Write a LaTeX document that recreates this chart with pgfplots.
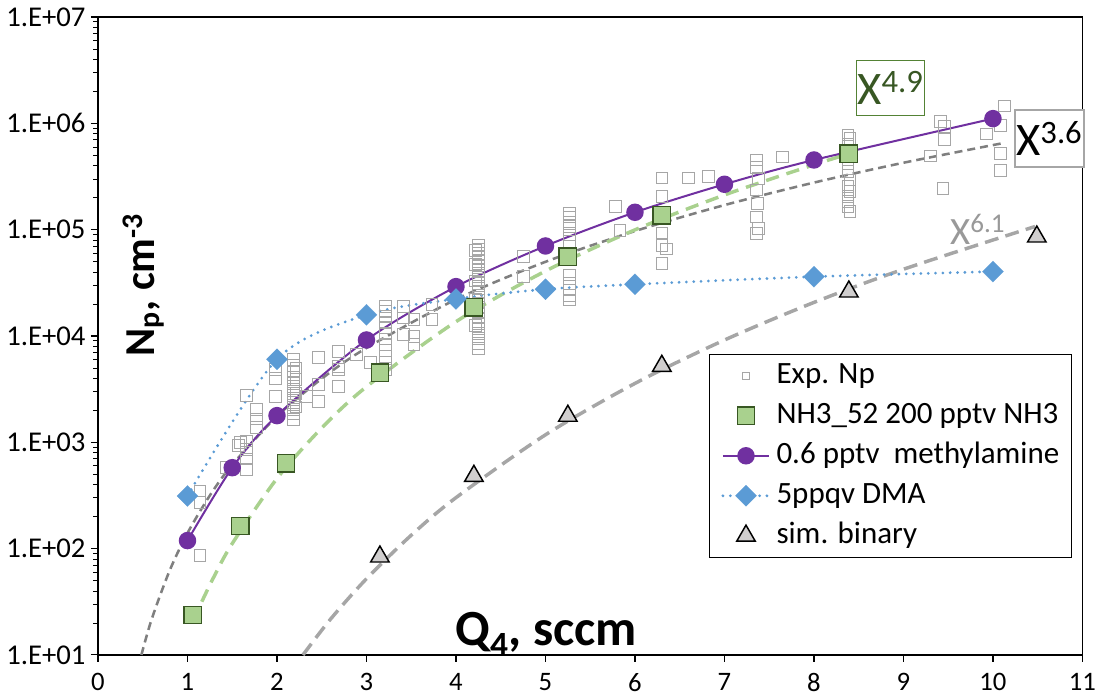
\documentclass[border=0pt]{standalone}
\usepackage{fontspec}
\setmainfont{Carlito}
\usepackage{pgfplots}
\pgfplotsset{compat=1.18}
\definecolor{mpurple}{HTML}{7030A0}
\definecolor{dblue}{HTML}{5B9BD5}
\definecolor{ngreen}{HTML}{A9D18E}
\definecolor{dgreen}{HTML}{385723}
\definecolor{bgreen}{HTML}{548235}
\definecolor{expgray}{HTML}{A6A6A6}
\definecolor{fitdark}{HTML}{7F7F7F}
\definecolor{fitlight}{HTML}{A6A6A6}
\definecolor{labgray}{HTML}{999999}
\definecolor{tgray}{HTML}{D0CECE}
\pgfplotstableread{
x y
1.14 350
1.14 270
1.14 87
1.43 580
1.57 940
1.59 990
1.66 1030
1.66 860
1.66 700
1.66 560
1.66 2760
1.77 2040
1.77 1660
1.77 1380
1.98 4840
1.98 3960
1.98 2720
2.18 6030
2.18 5300
2.18 4600
2.18 4100
2.18 3700
2.18 3350
2.18 3050
2.18 2750
2.18 2500
2.18 2250
2.18 2050
2.18 1850
2.18 1650
2.21 5000
2.21 3900
2.21 2900
2.21 2150
2.33 2720
2.46 6240
2.46 3510
2.46 2440
2.69 7200
2.69 5200
2.69 4840
2.69 3380
2.89 6700
3.04 5600
3.21 19000
3.21 17000
3.21 15200
3.21 13500
3.21 12000
3.21 10600
3.21 9400
3.21 8300
3.21 7300
3.21 6400
3.21 5600
3.21 4800
3.41 19000
3.41 14800
3.53 14300
3.41 10300
3.53 9950
3.53 8300
3.73 19800
3.73 14300
4.25 72000
4.25 66000
4.25 60000
4.25 55000
4.25 50000
4.25 45500
4.25 41500
4.25 37500
4.25 34000
4.25 31000
4.25 28000
4.25 25500
4.25 23000
4.25 20500
4.25 18500
4.25 16500
4.25 14800
4.25 13200
4.25 11800
4.25 10500
4.25 9500
4.25 8500
4.25 7700
4.22 64000
4.22 47000
4.22 33000
4.22 22000
4.22 12500
4.75 56000
4.75 36500
5.27 142600
5.27 132000
5.27 118000
5.27 107000
5.27 89000
5.27 77000
5.27 37500
5.27 31300
5.27 27100
5.27 24000
5.27 21800
5.78 165000
5.83 98000
6.30 306000
6.30 206000
6.30 93000
6.30 71500
6.35 66000
6.30 47900
6.60 306000
6.82 316000
7.36 452000
7.36 385000
7.38 303000
7.36 236000
7.37 177000
7.36 132000
7.38 103000
7.36 92500
7.65 482000
8.38 777000
8.40 722000
8.38 640000
8.38 420000
8.38 351000
8.40 293000
8.38 255000
8.40 228000
8.38 205000
8.38 183000
8.38 165000
8.40 148000
9.30 495000
9.41 1040000
9.46 934000
9.46 708000
9.44 245000
9.93 794000
10.08 950000
10.13 1460000
10.08 525000
10.08 361000
}\exptable
\begin{document}
\begin{tikzpicture}
\begin{axis}[
 at={(0,0)}, anchor=south west,
 scale only axis, width=738.4pt, height=478.5pt,
 xmin=0, xmax=11, ymin=10, ymax=1e7, ymode=log,
 xtick={0,1,2,3,4,5,6,7,8,9,10,11},
 xticklabels={0,1,2,3,4,5,6,7,8,9,10,11},
 ytick={1e1,1e2,1e3,1e4,1e5,1e6,1e7},
 yticklabels={1.E+01,1.E+02,1.E+03,1.E+04,1.E+05,1.E+06,1.E+07},
 minor ytick={20,30,40,50,60,70,80,90,200,300,400,500,600,700,800,900,2000,3000,4000,5000,6000,7000,8000,9000,20000,30000,40000,50000,60000,70000,80000,90000,200000,300000,400000,500000,600000,700000,800000,900000,2000000,3000000,4000000,5000000,6000000,7000000,8000000,9000000},
 xtick pos=bottom, ytick pos=left, tick align=outside,
 major tick length=5.25pt, minor tick length=3.5pt,
 tick style={black, line width=0.8pt}, minor tick style={line width=0.6pt},
 axis line style={black, line width=0.9pt},
 yticklabel style={font=\fontsize{21.5}{21.5}\selectfont, anchor=east, inner sep=0pt, xshift=-4pt},
 xticklabel style={font=\fontsize{20}{20}\selectfont, anchor=north, inner sep=0pt, yshift=-8.5pt},
 clip=false,
 legend style={at={(0.6206,0.4718)}, anchor=north west, draw=black, line width=0.75pt, fill=white,
   inner xsep=9pt, inner ysep=3pt, row sep=4pt, column sep=4.5pt,
   font=\fontsize{23.25}{28}\selectfont,
   nodes={inner xsep=0pt, inner ysep=2pt, text height=16.5pt, text depth=5.5pt},
   cells={anchor=west}},
 legend image code/.code={\draw[mark repeat=2,mark phase=2,#1] plot coordinates {(0pt,0pt) (17.25pt,0pt) (34.5pt,0pt)};},
]
% experimental points
\addplot[only marks, mark=square, mark size=4.4pt, mark options={draw=expgray, line width=0.6pt},
  legend image post style={mark size=2.6pt}] table[x=x,y=y] {\exptable};
\addlegendentry{Exp. Np}
% fit x^3.6
\addplot[forget plot, smooth, fitdark, line width=1.9pt, dash pattern=on 6pt off 3.75pt] coordinates {
(0.485,10) (0.6,21.7) (0.8,62.0) (1.0,140) (1.25,316) (1.5,615) (2,1757) (2.5,3968) (3,7715) (4,22060) (5,49830) (6,96950) (7,170200) (8,277000) (9,425700) (10.1,648000)};
% fit x^4.9
\addplot[forget plot, smooth, ngreen, line width=2.6pt, dash pattern=on 10pt off 6pt] coordinates {
(1.16,31.7) (1.3,55.3) (1.5,111.6) (2,457) (2.5,1363) (3,3331) (4,13630) (5,40760) (6,99600) (7,211900) (8,407700) (8.4,520000)};
% fit x^6.1
\addplot[forget plot, smooth, fitlight, line width=2.6pt, dash pattern=on 10.5pt off 5.5pt] coordinates {
(2.29,10) (2.6,21.8) (3,52.1) (3.5,133.7) (4,301.6) (5,1176) (6,3579) (7,9160) (8,20680) (9,42430) (10.47,107000)};
% NH3
\addplot[only marks, mark=square*, mark size=6.5pt, mark options={fill=ngreen, draw=dgreen, line width=1.1pt}] coordinates {
(1.06,23.8) (1.59,163) (2.10,635) (3.15,4520) (4.20,18600) (5.25,55700) (6.30,136500) (8.39,518000)};
\addlegendentry{NH3\_52 200 pptv NH3}
% methylamine
\addplot[smooth, mpurple, line width=1.5pt, mark=*, mark size=5.8pt, mark options={solid, fill=mpurple, draw=mpurple}] coordinates {
(1,119) (1.5,577) (2,1782) (3,9170) (4,29100) (5,70200) (6,145600) (7,267000) (8,452000) (10,1107000)};
\addlegendentry{0.6 pptv\ \ methylamine}
% DMA
\addplot[smooth, dblue, line width=2.3pt, line cap=round, dash pattern=on 0pt off 5.5pt, mark=square*, mark size=5.6pt, mark options={solid, rotate=45, fill=dblue, draw=dblue, line width=0.1pt}] coordinates {
(1,313) (2,6040) (3,15800) (4,22300) (5,27500) (6,30600) (8,36100) (10,40300)};
\addlegendentry{5ppqv DMA}
% sim binary
\addplot[only marks, mark=triangle*, mark size=8pt, mark options={fill=tgray, draw=black, line width=1.1pt}] coordinates {
(3.15,84) (4.20,482) (5.25,1770) (6.30,5220) (8.39,26100) (10.49,85900)};
\addlegendentry{sim. binary}
% annotations
\node[draw=bgreen, line width=0.75pt, text=dgreen, font=\fontsize{35}{35}\selectfont, minimum width=48.75pt, minimum height=41.25pt, inner sep=1pt, fill=white] at (axis cs:8.855,2.15e6) {X\textsuperscript{4.9}};
\node[draw=expgray, line width=1.1pt, text=black, font=\fontsize{35}{35}\selectfont, minimum width=48.75pt, minimum height=42.75pt, inner sep=1pt, fill=white] at (axis cs:10.63,7.2e5) {X\textsuperscript{3.6}};
\node[text=labgray, font=\fontsize{29}{29}\selectfont, inner sep=0pt] at (axis cs:9.83,1.01e5) {X\textsuperscript{6.1}};
\node[rotate=90, font=\fontsize{32}{32}\selectfont\bfseries, inner sep=0pt] at (axis cs:0.514,3.02e4) {N\textsubscript{p}, cm\textsuperscript{-3}};
\node[anchor=base west, font=\fontsize{38}{38}\selectfont\bfseries, inner sep=0pt] at (axis cs:3.99,12.4) {Q\textsubscript{4}, sccm};
\end{axis}
\pgfresetboundingbox
\path (-73.5pt,-32.25pt) rectangle (749.3pt,491.25pt);
\end{tikzpicture}
\end{document}
